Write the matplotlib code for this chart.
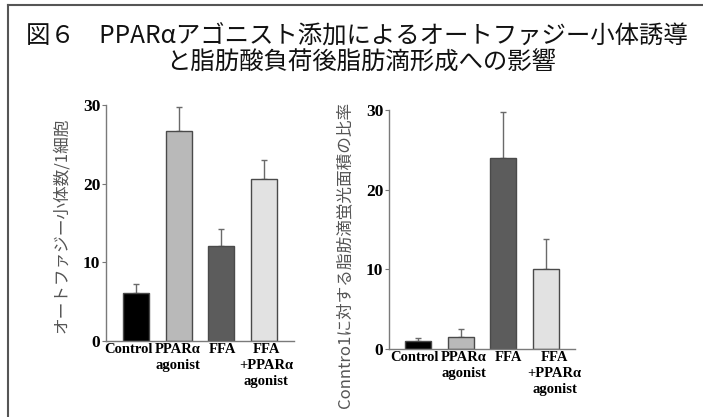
import matplotlib
matplotlib.use("Agg")
import matplotlib.pyplot as plt
from matplotlib.lines import Line2D
from matplotlib.transforms import ScaledTranslation

categories = ["Control", "PPARα\nagonist", "FFA", "FFA\n+PPARα\nagonist"]
autophagy_mean = [6.1, 26.7, 12.1, 20.6]
autophagy_err = [1.1, 3.0, 2.1, 2.4]
lipid_mean = [1.0, 1.5, 24.0, 10.0]
lipid_err = [0.3, 1.0, 5.7, 3.8]
yticks = [0, 10, 20, 30]
bar_colors = ["#000000", "#b9b9b9", "#5c5c5c", "#e2e2e2"]

title_l1 = "図６　PPARαアゴニスト添加によるオートファジー小体誘導"
title_l2 = "と脂肪酸負荷後脂肪滴形成への影響"
ylabel_left = "オートファジー小体数/1細胞"
ylabel_right = "Conntro1に対する脂肪滴蛍光面積の比率"

cjk = ["Noto Sans CJK JP", "DejaVu Sans"]
serif_b = dict(family="Liberation Serif", weight="bold")

fig = plt.figure(figsize=(7.03, 4.17), dpi=100)
fig.patch.set_facecolor("white")

# frame lines (left and top)
fig.add_artist(Line2D([8/703, 8/703], [0, 1 - 5/417], transform=fig.transFigure, color="#555555", lw=1.5))
fig.add_artist(Line2D([8/703, 1], [1 - 5/417, 1 - 5/417], transform=fig.transFigure, color="#555555", lw=1.5))

fig.text(0.508, 1 - 37/417, title_l1, ha="center", va="center", fontsize=17.6, family=cjk, color="#111111")
fig.text(0.514, 1 - 63/417, title_l2, ha="center", va="center", fontsize=17.6, family=cjk, color="#111111")

def panel(rect, means, errs, xlim, ylabel, ylabel_x, ylabel_y, shifts):
    ax = fig.add_axes(rect)
    x = list(range(len(categories)))
    ax.bar(x, means, width=0.61, color=bar_colors, edgecolor="#4a4a4a", linewidth=1.0, zorder=2)
    ax.errorbar(x, means, yerr=[[0]*len(errs), errs], fmt="none", ecolor="#6a6a6a",
                elinewidth=1.0, capsize=2.5, capthick=1.0, zorder=1)
    ax.set_xlim(*xlim)
    ax.set_ylim(0, 30)
    ax.set_yticks(yticks)
    ax.set_yticklabels([str(t) for t in yticks], fontsize=12.5, **serif_b)
    ax.set_xticks(x)
    ax.set_xticklabels(categories, fontsize=10.5, linespacing=1.3, **serif_b)
    ax.tick_params(axis="x", length=0, pad=2)
    ax.tick_params(axis="y", length=3, width=0.8, color="#777777", pad=1)
    for lbl, dx in zip(ax.get_xticklabels(), shifts):
        lbl.set_transform(lbl.get_transform() + ScaledTranslation(dx/100, 0, fig.dpi_scale_trans))
    for s in ["top", "right"]:
        ax.spines[s].set_visible(False)
    for s in ["left", "bottom"]:
        ax.spines[s].set_color("#7a7a7a")
        ax.spines[s].set_linewidth(1.0)
    fig.text(ylabel_x, ylabel_y, ylabel, rotation=90, ha="center", va="center",
             fontsize=12, family=cjk, color="#555555")
    return ax

panel([105.7/703, 1 - 340.7/417, 188.3/703, 235.7/417], autophagy_mean, autophagy_err,
      (-0.71, 3.70), ylabel_left, 62/703, 1 - 225/417, [-7.5, -1, 1.5, 2])
panel([389/703, 1 - 348.7/417, 186/703, 238.7/417], lipid_mean, lipid_err,
      (-0.68, 3.68), ylabel_right, 345/703, 1 - 255/417, [-4, 3, 5.5, 8.5])

fig.savefig("out.png", dpi=100, facecolor="white")
